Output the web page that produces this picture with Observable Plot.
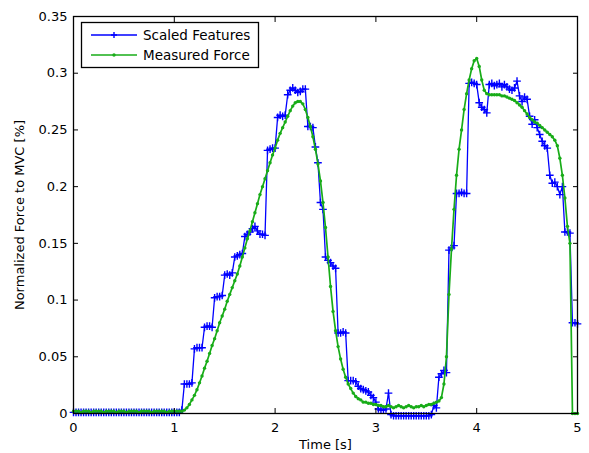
<!DOCTYPE html>
<html>
<head>
<meta charset="utf-8">
<script src="https://cdn.jsdelivr.net/npm/d3@7"></script>
<script src="https://cdn.jsdelivr.net/npm/@observablehq/plot@0.6"></script>
<style>
  html, body { margin: 0; padding: 0; background: #fff; }
  #chart { width: 589px; height: 453px; }
</style>
</head>
<body>
<div id="chart"></div>
<script>
// sampling interval of both series [s]
const sampleStep = 0.025;

// Scaled Features (blue, "+" markers), one value per sample
const scaledFeatures = [
  0.001,0.001,0.001,0.001,0.001,0.001,0.001,0.001,0.001,0.001,
  0.001,0.001,0.001,0.001,0.001,0.001,0.001,0.001,0.001,0.001,
  0.001,0.001,0.001,0.001,0.001,0.001,0.001,0.001,0.001,0.001,
  0.001,0.001,0.001,0.001,0.001,0.001,0.001,0.001,0.001,0.001,
  0.001,0.001,0.001,0.003,
  0.026,0.026,0.026,0.027,
  0.057,0.058,0.058,0.058,
  0.076,0.077,0.077,0.076,
  0.102,0.103,0.103,0.104,
  0.122,0.123,0.122,0.124,
  0.138,0.139,0.140,0.141,
  0.156,0.158,0.160,0.163,0.165,0.161,0.158,0.158,0.157,
  0.232,0.233,0.234,0.234,
  0.261,0.263,0.262,0.263,
  0.281,0.285,0.287,0.285,0.283,0.284,0.286,0.286,
  0.253,0.253,0.252,0.235,0.221,0.186,0.180,
  0.138,0.135,0.133,0.130,0.128,
  0.071,0.071,0.072,0.071,
  0.029,0.029,0.029,0.028,0.024,0.022,0.021,0.020,0.019,0.016,0.014,
  0.010,0.004,0.003,0.003,0.004,0.018,-0.001,
  -0.002,-0.002,-0.002,-0.002,-0.002,-0.002,-0.002,-0.002,-0.002,-0.002,
  -0.002,-0.002,-0.002,-0.002,-0.002,-0.001,
  0.007,0.005,
  0.032,0.035,0.038,0.036,
  0.144,0.146,0.148,
  0.194,0.194,0.195,0.194,0.194,
  0.291,0.292,0.291,0.290,
  0.274,0.270,0.268,0.265,
  0.290,0.291,0.289,0.290,0.291,0.288,0.290,0.288,0.286,0.285,0.287,0.293,
  0.280,0.275,0.279,0.277,
  0.262,0.255,0.259,0.252,0.246,0.240,0.236,0.234,
  0.210,0.203,0.204,0.200,0.193,0.200,
  0.160,0.160,0.159,
  0.080,0.080,0.079
];

// Measured Force (green, dot markers), one value per sample
const measuredForce = [
  0.002,0.002,0.002,0.001,0.002,0.002,0.002,0.001,0.002,0.002,
  0.002,0.002,0.001,0.002,0.002,0.002,0.002,0.001,0.002,0.002,
  0.002,0.001,0.002,0.002,0.002,0.002,0.001,0.002,0.002,0.002,
  0.002,0.001,0.002,0.002,0.002,0.002,0.002,0.001,0.002,0.002,
  0.002,0.002,0.002,0.002,
  0.003,0.005,0.008,0.012,0.016,0.021,0.027,0.033,0.040,0.046,
  0.053,0.060,0.066,0.073,0.080,0.086,0.092,0.099,0.105,0.111,
  0.117,0.123,0.130,0.138,0.146,0.154,0.161,0.169,0.177,0.185,
  0.193,0.200,0.207,0.214,0.221,0.228,0.234,0.241,0.247,0.252,
  0.257,0.262,0.267,0.271,0.274,0.275,0.275,0.273,0.268,0.261,
  0.253,0.244,0.233,0.220,0.205,0.186,0.164,0.138,0.112,0.090,
  0.073,0.059,0.048,0.039,0.032,0.026,0.022,0.018,0.015,0.013,
  0.012,0.010,0.010,0.009,0.009,0.008,0.008,0.007,0.007,0.006,
  0.006,0.007,0.006,0.005,0.006,0.007,0.006,0.005,0.006,0.007,
  0.006,0.005,0.006,0.006,0.007,0.006,0.007,0.008,0.008,0.009,
  0.010,0.011,0.014,0.026,0.050,0.105,0.145,0.180,0.210,0.233,
  0.250,0.268,0.282,0.294,0.304,0.311,0.313,0.306,0.294,0.285,
  0.282,0.281,0.281,0.281,0.281,0.281,0.280,0.280,0.279,0.278,
  0.277,0.276,0.274,0.272,0.270,0.267,0.264,0.261,0.259,0.257,
  0.256,0.254,0.252,0.250,0.248,0.246,0.244,0.241,0.236,0.225,
  0.210,0.190,0.165,0.150,0.000,0.000,0.000
];

const seriesNames = ["Scaled Features", "Measured Force"];
const seriesColors = ["#0000ff", "#18ac18"];
const xTicks = [0, 1, 2, 3, 4, 5];
const xTickLabels = ["0", "1", "2", "3", "4", "5"];
const yTicks = [0, 0.05, 0.1, 0.15, 0.2, 0.25, 0.3, 0.35];
const yTickLabels = ["0", "0.05", "0.1", "0.15", "0.2", "0.25", "0.3", "0.35"];
const xLabel = "Time [s]";
const yLabel = "Normalized Force to MVC [%]";

const blue = scaledFeatures.map((v, i) => ({t: i * sampleStep, v}));
const green = measuredForce.map((v, i) => ({t: i * sampleStep, v}));

const svg = Plot.plot({
  width: 589,
  height: 453,
  marginLeft: 73,
  marginRight: 12,
  marginTop: 16,
  marginBottom: 40,
  style: {fontFamily: "DejaVu Sans", fontSize: "13px", background: "#fff", color: "#000"},
  x: {domain: [0, 5]},
  y: {domain: [0, 0.35]},
  marks: [
    Plot.lineY(blue, {x: "t", y: "v", stroke: seriesColors[0], strokeWidth: 1.3, strokeLinejoin: "round"}),
    Plot.dot(blue, {x: "t", y: "v", symbol: "plus", r: 2.6, stroke: seriesColors[0], strokeWidth: 1.4}),
    Plot.lineY(green, {x: "t", y: "v", stroke: seriesColors[1], strokeWidth: 1.7, strokeLinejoin: "round"}),
    Plot.dot(green, {x: "t", y: "v", r: 1.7, fill: seriesColors[1], stroke: "none"}),
    Plot.frame({stroke: "#000", strokeWidth: 1.3}),
    Plot.axisX({anchor: "bottom", ticks: xTicks, tickSize: -5, tickPadding: 14, tickFormat: (d, i) => xTickLabels[i], label: null, fill: "#000"}),
    Plot.axisX({anchor: "top", ticks: xTicks, tickSize: -5, tickFormat: () => "", label: null}),
    Plot.axisY({anchor: "left", ticks: yTicks, tickSize: -5, tickPadding: 11, tickFormat: (d, i) => yTickLabels[i], label: null, fill: "#000"}),
    Plot.axisY({anchor: "right", ticks: yTicks, tickSize: -5, tickFormat: () => "", label: null}),
    Plot.text([xLabel], {frameAnchor: "bottom", dy: 35, fontSize: 13, fill: "#000"}),
    Plot.text([yLabel], {frameAnchor: "left", dx: -54, rotate: -90, textAnchor: "middle", fontSize: 13, fill: "#000"})
  ]
});

// legend box (inside the plot, top-left, MATLAB style)
const g = d3.select(svg).append("g")
  .attr("font-family", "DejaVu Sans").attr("font-size", 13.5).attr("text-anchor", "start");
g.append("rect").attr("x", 81.5).attr("y", 22.5).attr("width", 177).attr("height", 45)
  .attr("fill", "#fff").attr("stroke", "#000").attr("stroke-width", 1.3);
const rows = [35, 55];
seriesNames.forEach((name, i) => {
  const y = rows[i];
  g.append("line").attr("x1", 91).attr("x2", 137).attr("y1", y).attr("y2", y)
    .attr("stroke", seriesColors[i]).attr("stroke-width", i ? 1.7 : 1.3);
  if (i === 0) {
    g.append("path").attr("d", `M111,${y}h6M114,${y - 3}v6`).attr("stroke", seriesColors[0]).attr("stroke-width", 1.4);
  } else {
    g.append("circle").attr("cx", 114).attr("cy", y).attr("r", 1.7).attr("fill", seriesColors[1]);
  }
  g.append("text").attr("x", 143).attr("y", y).attr("dy", "0.35em").attr("fill", "#000").text(name);
});

document.getElementById("chart").appendChild(svg);
</script>
</body>
</html>
